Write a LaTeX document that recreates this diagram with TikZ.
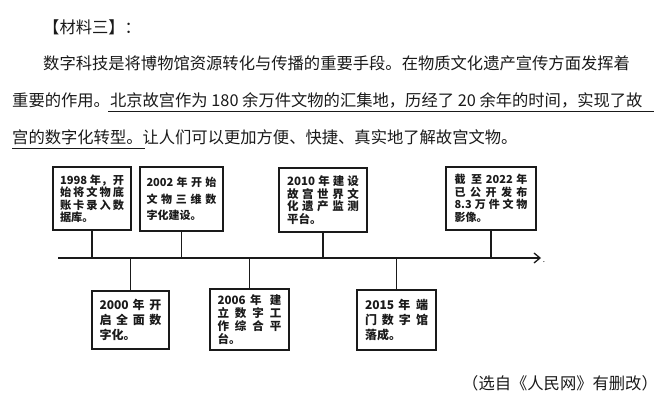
\documentclass[tikz,border=0pt]{standalone}
\usepackage{fontspec}
\setmainfont{Noto Sans CJK SC}
\usetikzlibrary{arrows.meta}
\XeTeXlinebreaklocale "zh"
\XeTeXlinebreakskip=0pt plus 6pt
\XeTeXlinebreakpenalty=10000
\definecolor{ink}{HTML}{1A1A1A}
\tikzset{
  evbox/.style={draw=ink, line width=1.3pt, align=justify, inner ysep=0pt, text=ink},
  mainline/.style={anchor=base west, inner sep=0pt, text=ink, font=\fontsize{16.3}{20}\selectfont},
  stem/.style={draw=ink, line width=1.3pt},
  uline/.style={draw=ink, line width=0.9pt},
}
\begin{document}
\begin{tikzpicture}[x=1pt,y=-1pt]
\useasboundingbox (0,0) rectangle (670,401);

% text block
\node[mainline] (t1) at (43,34) {【材料三】：};
\node[mainline, text width=609pt, align=justify] (t2) at (43,70)
  {\parfillskip=0pt 数字科技是将博物馆资源转化与传播的重要手段。在物质文化遗产宣传方面发挥着};
\node[mainline, text width=640pt, align=justify] (t3) at (12,107)
  {\parfillskip=0pt 重要的作用。北京故宫作为~180~余万件文物的汇集地，历经了~20~余年的时间，实现了故};
\node[mainline] (t4) at (12,144) {宫的数字化转型。让人们可以更加方便、快捷、真实地了解故宫文物。};
\coordinate (u1s) at (108,111);
\coordinate (u1e) at (654,111);
\coordinate (u2s) at (12,148);
\coordinate (u2e) at (145,148);
\draw[uline] (u1s) -- (u1e);
\draw[uline] (u2s) -- (u2e);

% timeline
\coordinate (tlS) at (58,258);
\coordinate (tlE) at (541,258);
\draw[stem, -{Straight Barb[length=6pt,width=10pt,line width=1.3pt]}] (tlS) -- (tlE);
\node[inner sep=0pt, text=ink, font=\fontsize{8}{8}\selectfont] (dot) at (544,262) {.};

% upper boxes
\node[evbox, text width=64pt, inner xsep=7pt, minimum height=63pt,
      font=\bfseries\fontsize{11.2}{12.5}\selectfont] (b1) at (92,198.5)
  {1998~年，开\linebreak 始将文物底\linebreak 账卡录入数\linebreak 据库。};
\node[evbox, text width=70pt, inner xsep=6.5pt, minimum height=64pt,
      font=\bfseries\fontsize{11}{16.5}\selectfont] (b2) at (181.5,199)
  {2002~年开始\linebreak 文物三维数\linebreak 字化建设。};
\node[evbox, text width=72pt, inner xsep=8pt, minimum height=64pt,
      font=\bfseries\fontsize{11.5}{12.5}\selectfont] (b3) at (323,200)
  {2010~年建设\linebreak 故宫世界文\linebreak 化遗产监测\linebreak 平台。};
\node[evbox, text width=73pt, inner xsep=8.5pt, minimum height=63pt,
      font=\bfseries\fontsize{11}{12.5}\selectfont] (b4) at (491,198.5)
  {截至~2022~年\linebreak 已公开发布\linebreak 8.3~万件文物\linebreak 影像。};

% lower boxes
\node[evbox, text width=62pt, inner xsep=7.5pt, minimum height=58pt,
      font=\bfseries\fontsize{12}{15}\selectfont] (b5) at (130.5,320)
  {2000~年开\linebreak 启全面数\linebreak 字化。};
\node[evbox, text width=64pt, inner xsep=7.5pt, minimum height=61pt,
      font=\bfseries\fontsize{11.5}{13}\selectfont] (b6) at (249.5,319.5)
  {2006~年建\linebreak 立数字工\linebreak 作综合平\linebreak 台。};
\node[evbox, text width=63pt, inner xsep=8pt, minimum height=60pt,
      font=\bfseries\fontsize{12}{15}\selectfont] (b7) at (396.5,320)
  {2015~年端\linebreak 门数字馆\linebreak 落成。};

% stems
\foreach \b in {b1,b2,b3,b4}{\draw[stem] (\b.south) -- (\b.south |- tlS);}
\foreach \b in {b5,b6,b7}{\draw[stem] (\b.north |- tlS) -- (\b.north);}

% source
\node[anchor=base east, inner sep=0pt, text=ink, font=\fontsize{16.3}{20}\selectfont] (src) at (658,389)
  {（选自《人民网》有删改）};
\end{tikzpicture}
\end{document}
